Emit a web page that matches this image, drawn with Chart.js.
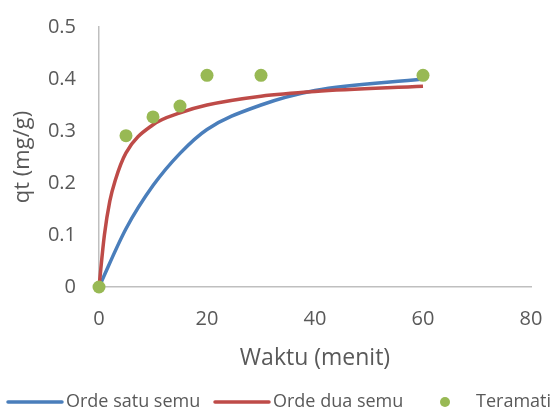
<!DOCTYPE html>
<html>
<head>
<meta charset="utf-8">
<script src="https://cdn.jsdelivr.net/npm/chart.js@4.4.1/dist/chart.umd.min.js"></script>
<style>
  html, body { margin: 0; padding: 0; background: #ffffff; }
  #wrap { width: 556px; height: 410px; }
</style>
</head>
<body>
<div id="wrap"><canvas id="c" width="556" height="410"></canvas></div>
<script>
// Waktu (menit) and qt (mg/g)
const timeFirst = [0, 5, 10, 15, 20, 30, 40, 60];
const qtFirst = [0, 0.112, 0.195, 0.257, 0.303, 0.350, 0.378, 0.400];

const timeSecond = [0, 1, 2, 3, 5, 10, 15, 20, 30, 40, 60];
const qtSecond = [0, 0.100, 0.165, 0.205, 0.258, 0.312, 0.335, 0.350, 0.367, 0.376, 0.386];

const timeObserved = [0, 5, 10, 15, 20, 30, 60];
const qtObserved = [0, 0.291, 0.327, 0.348, 0.407, 0.407, 0.407];

const seriesNames = ['Orde satu semu', 'Orde dua semu', 'Teramati'];
const xTicks = [0, 20, 40, 60, 80];
const yTicks = [0, 0.1, 0.2, 0.3, 0.4, 0.5];

const toPoints = (xs, ys) => xs.map((x, i) => ({ x: x, y: ys[i] }));

const FONT = '"Open Sans", "Noto Sans", sans-serif';
const TEXT = '#595959';

// Legend drawn along the bottom edge: line swatches and a dot swatch
const bottomLegend = {
  id: 'bottomLegend',
  afterDraw(chart) {
    const ctx = chart.ctx;
    const y = 402;
    const swatches = [[8, 62], [215, 269], [418, 472]];
    ctx.save();
    ctx.font = '18px ' + FONT;
    ctx.textBaseline = 'middle';
    chart.data.datasets.forEach((ds, i) => {
      const [a, b] = swatches[i];
      if (ds.showLine) {
        ctx.strokeStyle = ds.borderColor;
        ctx.lineWidth = 3.5;
        ctx.lineCap = 'round';
        ctx.beginPath();
        ctx.moveTo(a, y);
        ctx.lineTo(b, y);
        ctx.stroke();
      } else {
        ctx.fillStyle = ds.backgroundColor;
        ctx.beginPath();
        ctx.arc((a + b) / 2, y, 5, 0, Math.PI * 2);
        ctx.fill();
      }
      ctx.fillStyle = TEXT;
      ctx.textAlign = 'left';
      ctx.fillText(ds.label, b + 4, y);
    });
    ctx.restore();
  }
};

new Chart(document.getElementById('c'), {
  type: 'scatter',
  data: {
    datasets: [
      {
        label: seriesNames[0],
        data: toPoints(timeFirst, qtFirst),
        showLine: true,
        borderColor: '#4a7ebb',
        backgroundColor: '#4a7ebb',
        borderWidth: 3.5,
        pointRadius: 0,
        cubicInterpolationMode: 'monotone',
        clip: false,
        order: 2
      },
      {
        label: seriesNames[1],
        data: toPoints(timeSecond, qtSecond),
        showLine: true,
        borderColor: '#be4b48',
        backgroundColor: '#be4b48',
        borderWidth: 3.5,
        pointRadius: 0,
        cubicInterpolationMode: 'monotone',
        clip: false,
        order: 1
      },
      {
        label: seriesNames[2],
        data: toPoints(timeObserved, qtObserved),
        showLine: false,
        backgroundColor: '#98b954',
        borderColor: '#98b954',
        pointRadius: 6.5,
        pointBorderWidth: 0,
        clip: false,
        order: 0
      }
    ]
  },
  options: {
    responsive: false,
    animation: false,
    events: [],
    layout: { padding: { left: 0, top: 27, right: 25, bottom: 0 } },
    plugins: {
      legend: { display: false },
      tooltip: { enabled: false }
    },
    scales: {
      x: {
        type: 'linear',
        min: 0,
        max: 80,
        afterBuildTicks: (s) => { s.ticks = xTicks.map(v => ({ value: v })); },
        afterFit: (s) => {
          s.height = 123;
          s.paddingLeft = 0;
          s.paddingRight = 0;
        },
        grid: { display: false, drawTicks: false },
        border: { display: true, color: '#bfbfbf', width: 1.5 },
        ticks: { color: TEXT, font: { family: FONT, size: 20 }, padding: 20 },
        title: {
          display: true,
          text: 'Waktu (menit)',
          color: TEXT,
          font: { family: FONT, size: 23 },
          padding: { top: 0, bottom: 38 }
        }
      },
      y: {
        type: 'linear',
        min: 0,
        max: 0.5,
        afterBuildTicks: (s) => { s.ticks = yTicks.map(v => ({ value: v })); },
        afterFit: (s) => {
          s.width = 99;
          s.paddingTop = 0;
          s.paddingBottom = 0;
        },
        grid: { display: false, drawTicks: false },
        border: { display: true, color: '#bfbfbf', width: 1.5 },
        ticks: {
          color: TEXT,
          font: { family: FONT, size: 20 },
          padding: 23,
          callback: (v) => String(Math.round(v * 10) / 10)
        },
        title: {
          display: true,
          text: 'qt (mg/g)',
          color: TEXT,
          font: { family: FONT, size: 22 },
          padding: { top: 10, bottom: 0 }
        }
      }
    }
  },
  plugins: [bottomLegend]
});
</script>
</body>
</html>
